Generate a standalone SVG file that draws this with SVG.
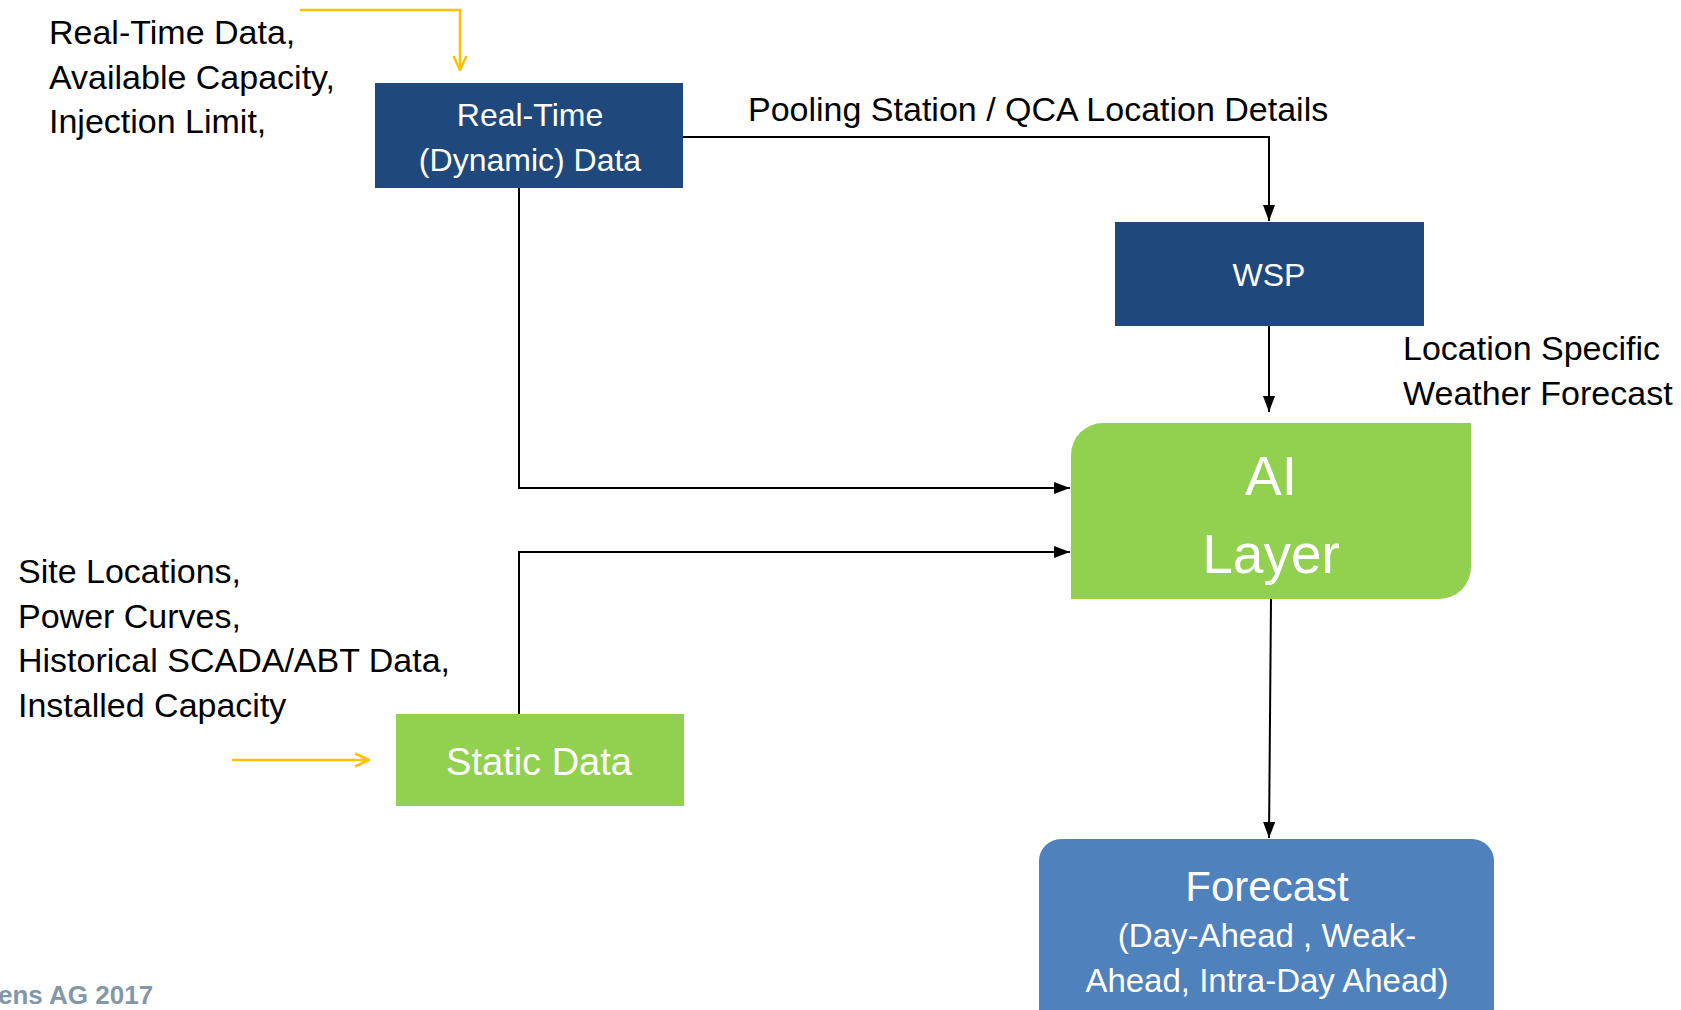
<svg xmlns="http://www.w3.org/2000/svg" width="1681" height="1010" viewBox="0 0 1681 1010">
<style>
.t{font-family:"Liberation Sans",Arial,sans-serif;font-size:34px;fill:#000}
.w{font-family:"Liberation Sans",Arial,sans-serif;fill:#fff;text-anchor:middle}
.c{fill:none;stroke:#000;stroke-width:2}
.y{fill:none;stroke:#FFC000;stroke-width:2.5}
</style>
<defs>
<marker id="ab" viewBox="0 0 16 12" refX="16" refY="6" markerWidth="16" markerHeight="12" markerUnits="userSpaceOnUse" orient="auto"><path d="M0,0 L16,6 L0,12 Z" fill="#000"/></marker>
<marker id="ay" viewBox="0 0 16 16" refX="15" refY="8" markerWidth="16" markerHeight="16" markerUnits="userSpaceOnUse" orient="auto"><path d="M1,1.5 L15,8 L1,14.5" fill="none" stroke="#FFC000" stroke-width="2.5"/></marker>
</defs>
<rect width="1681" height="1010" fill="#fff"/>
<g id="connectors">
<path class="c" d="M683,137 H1269 V221" marker-end="url(#ab)"/>
<path class="c" d="M519,188 V488 H1070" marker-end="url(#ab)"/>
<path class="c" d="M519,714 V552 H1070" marker-end="url(#ab)"/>
<path class="c" d="M1269,326 V412" marker-end="url(#ab)"/>
<path class="c" d="M1271,599 L1269,838" marker-end="url(#ab)"/>
<path class="y" d="M300,10 H460 V70" marker-end="url(#ay)"/>
<path class="y" d="M232,760 H369" marker-end="url(#ay)"/>
</g>
<g id="labels">
<text class="t" x="49" y="44">Real-Time Data,</text>
<text class="t" x="49" y="89">Available Capacity,</text>
<text class="t" x="49" y="133">Injection Limit,</text>
<text class="t" x="748" y="121">Pooling Station / QCA Location Details</text>
<text class="t" x="1403" y="360">Location Specific</text>
<text class="t" x="1403" y="405">Weather Forecast</text>
<text class="t" x="18" y="583">Site Locations,</text>
<text class="t" x="18" y="628">Power Curves,</text>
<text class="t" x="18" y="672">Historical SCADA/ABT Data,</text>
<text class="t" x="18" y="717">Installed Capacity</text>
<text x="-2" y="1004" style="font-family:'Liberation Sans',Arial,sans-serif;font-weight:bold;font-size:26px;fill:#8497A8">ens AG 2017</text>
</g>
<g id="node-realtime">
<rect x="375" y="83" width="308" height="105" fill="#1F497D"/>
<text class="w" x="530" y="126" font-size="32">Real-Time</text>
<text class="w" x="530" y="171" font-size="32">(Dynamic) Data</text>
</g>
<g id="node-wsp">
<rect x="1115" y="222" width="309" height="104" fill="#1F497D"/>
<text class="w" x="1269" y="286" font-size="32">WSP</text>
</g>
<g id="node-ai">
<path d="M1103,423 H1471 V567 A32,32 0 0 1 1439,599 H1071 V455 A32,32 0 0 1 1103,423 Z" fill="#92D050"/>
<text class="w" x="1271" y="495" font-size="55">AI</text>
<text class="w" x="1271" y="573" font-size="55">Layer</text>
</g>
<g id="node-static">
<rect x="396" y="714" width="288" height="92" fill="#92D050"/>
<text class="w" x="539" y="775" font-size="38">Static Data</text>
</g>
<g id="node-forecast">
<rect x="1039" y="839" width="455" height="200" rx="22" ry="22" fill="#4F81BD"/>
<text class="w" x="1267" y="901" font-size="42">Forecast</text>
<text class="w" x="1267" y="947" font-size="33">(Day-Ahead , Weak-</text>
<text class="w" x="1267" y="992" font-size="33">Ahead, Intra-Day Ahead)</text>
</g>
</svg>
